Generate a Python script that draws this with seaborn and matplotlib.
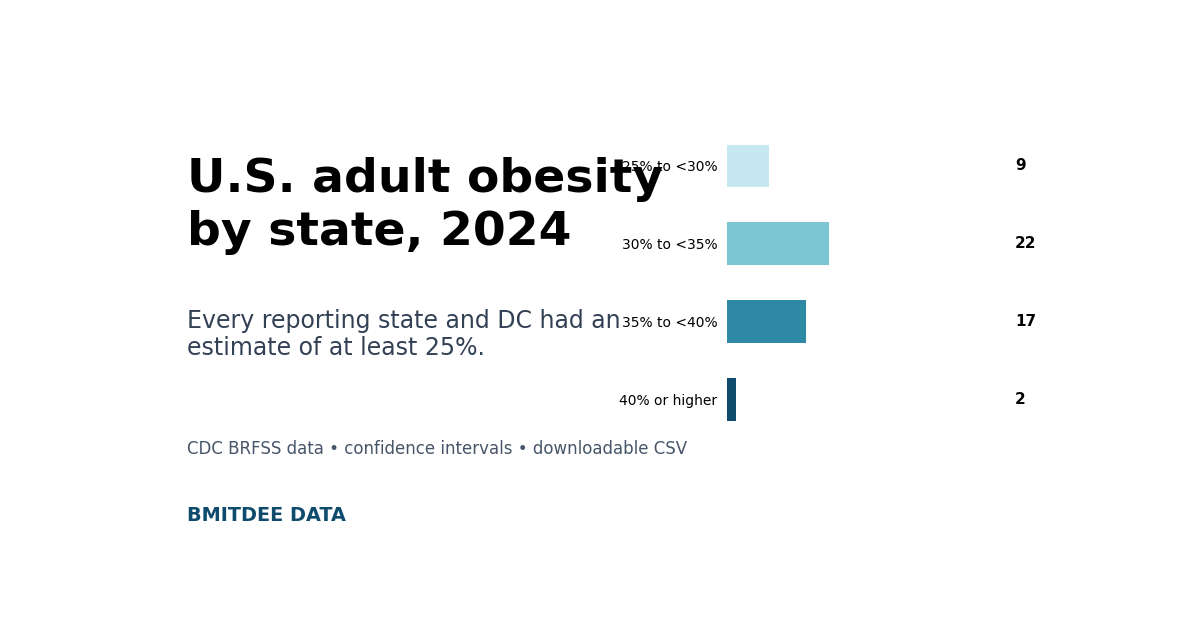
import pandas as pd
import matplotlib.pyplot as plt
import seaborn as sns

categories = ['25% to <30%', '30% to <35%', '35% to <40%', '40% or higher']
states = [9, 22, 17, 2]
colors = ['#c6e9f1', '#7bc6d2', '#2e8aa4', '#0e4b6d']

df = pd.DataFrame({'category': categories, 'states': states})

sns.set_theme(style='white')
plt.rcParams['font.family'] = ['DejaVu Sans']
plt.rcParams['text.color'] = 'black'
plt.rcParams['ytick.color'] = 'black'

fig = plt.figure(figsize=(12, 6.3), dpi=100)
ax = fig.add_axes([0.6058, 0.3047, 0.2275, 0.4937])

sns.barplot(data=df, y='category', x='states', hue='category', palette=colors,
            legend=False, width=0.55, ax=ax, saturation=1, linewidth=0)
ax.set_xlim(0, 58.8)
ax.set_xlabel('')
ax.set_ylabel('')
ax.set_xticks([])
ax.tick_params(axis='y', length=0, labelsize=10, pad=7, labelcolor='black')
for s in ax.spines.values():
    s.set_visible(False)

# counts on the right
for i, v in enumerate(states):
    ax.text(1.055, i, str(v), transform=ax.get_yaxis_transform(),
            ha='left', va='center', fontsize=11, fontweight='bold', color='black')

# left text block
fig.text(0.1558, 0.750, 'U.S. adult obesity\nby state, 2024', fontsize=34,
         fontweight='bold', va='top', ha='left', linespacing=1.21, color='black')
fig.text(0.1558, 0.509, 'Every reporting state and DC had an\nestimate of at least 25%.',
         fontsize=17, color='#334155', va='top', ha='left', linespacing=1.15)
fig.text(0.1558, 0.287, 'CDC BRFSS data \u2022 confidence intervals \u2022 downloadable CSV',
         fontsize=12, color='#475569', va='center', ha='left')
fig.text(0.1558, 0.181, 'BMITDEE DATA', fontsize=13.9, fontweight='bold',
         color='#0e4b6d', va='center', ha='left')

fig.savefig('out.png', dpi=100)
